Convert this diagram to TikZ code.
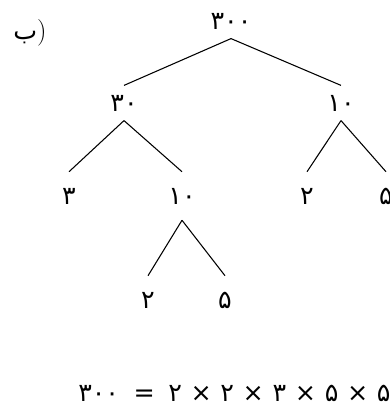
\documentclass[tikz,border=0pt]{standalone}
\usepackage{fontspec}
\newfontfamily\farsi[Script=Arabic]{DejaVu Sans}
\usetikzlibrary{positioning}

\tikzset{
  num/.style={font=\farsi\fontsize{19}{22}\selectfont, inner sep=0pt, minimum height=36pt},
  upper/.style={num, minimum height=26pt},
  branch/.style={line width=0.8pt}
}
\newcommand{\ts}{\hspace{6.5pt}×\hspace{6.5pt}}

\begin{document}
\begin{tikzpicture}[x=0.75pt, y=-0.75pt]
  \useasboundingbox (0,0) rectangle (389,409);
  % label of the part
  \node[upper] (part) at (30,33) {ب{\rmfamily\fontsize{20}{22}\selectfont)}};
  % factor tree
  \node[upper] (n300) at (231,21) {۳۰۰};
  \node[upper] (n30)  at (124,103) {۳۰};
  \node[upper] (n10r) at (341,103) {۱۰};
  \node[num] (n3)   at (69,196) {۳};
  \node[num] (n10m) at (182,196) {۱۰};
  \node[num] (n2r)  at (307,196) {۲};
  \node[num] (n5r)  at (386,196) {۵};
  \node[num] (n2m)  at (148,300) {۲};
  \node[num] (n5m)  at (225,300) {۵};
  \draw[branch] (n300.south) -- (n30.north);
  \draw[branch] (n300.south) -- (n10r.north);
  \draw[branch] (n30.south) -- (n3.north);
  \draw[branch] (n30.south) -- (n10m.north);
  \draw[branch] (n10r.south) -- (n2r.north);
  \draw[branch] (n10r.south) -- (n5r.north);
  \draw[branch] (n10m.south) -- (n2m.north);
  \draw[branch] (n10m.south) -- (n5m.north);
  % product of prime factors
  \node[upper, anchor=west] (prod) at (78,393)
    {۳۰۰\hspace{11pt}=\hspace{10pt}۲\ts۲\ts۳\ts۵\ts۵};
\end{tikzpicture}
\end{document}
